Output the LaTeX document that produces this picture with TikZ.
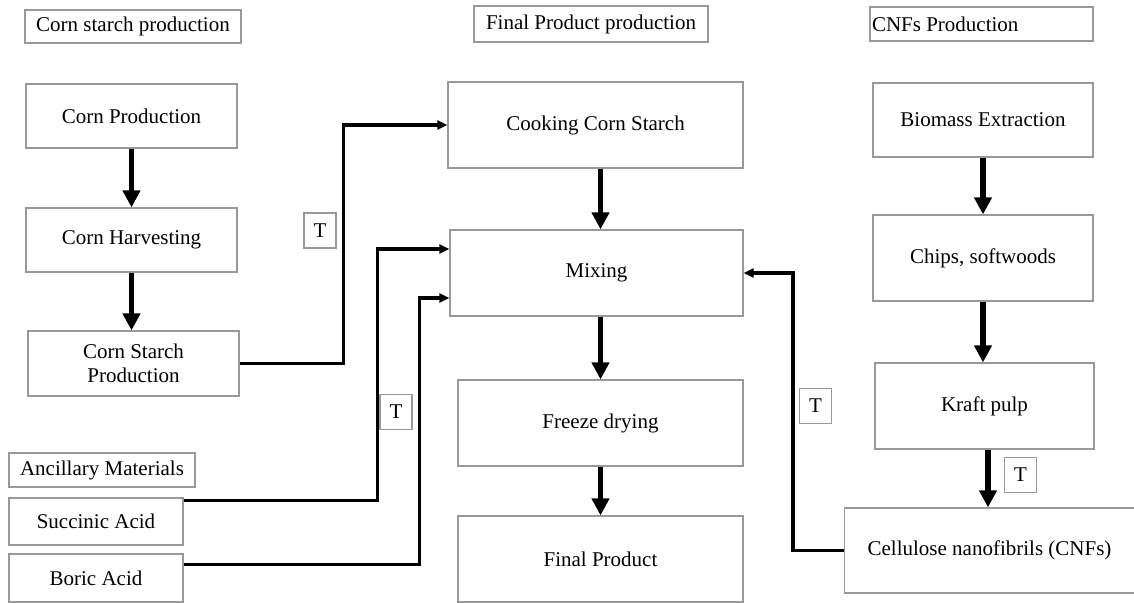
\documentclass[tikz,border=0pt]{standalone}
\usepackage{fontspec}
\setmainfont{Liberation Serif}
\usetikzlibrary{arrows.meta}
\usetikzlibrary{positioning}
\tikzset{
    procbox/.style = {rectangle, draw=gray!80, line width=0.6pt, align=center, inner sep=0pt, fill=white, font=\fontsize{10.5}{12}\selectfont, text=black},
    lblbox/.style = {procbox},
    tbox/.style = {procbox, minimum width=16pt, minimum height=17.5pt},
    edgef/.style = {-{Triangle[width=8.5pt,length=8.5pt]}, line width=2.8pt, black}, % main flow
    edgel/.style = {-{Triangle[width=4.5pt,length=5pt]}, line width=1.6pt, black}, % transport
}

\begin{document}
\begin{tikzpicture}[x=0.5pt, y=-0.5pt]
  \useasboundingbox (0,0) rectangle (1134,603);
  % corn starch column
  \node[lblbox, minimum width=108pt, minimum height=16.5pt] (lcorn) at (133,26.5) {Corn starch production};
  \node[procbox, minimum width=105.5pt, minimum height=32pt] (cprod) at (131.5,116) {Corn Production};
  \node[procbox, minimum width=105.5pt, minimum height=32pt] (charv) at (131.5,240) {Corn Harvesting};
  \node[procbox, minimum width=105.5pt, minimum height=32.5pt] (cstar) at (133.5,363.5) {Corn Starch\\Production};
  \node[tbox] (t1) at (320,230.5) {T};
  % ancillary materials
  \node[lblbox, minimum width=93pt, minimum height=17pt] (lanc) at (102,470) {Ancillary Materials};
  \node[procbox, minimum width=87pt, minimum height=23.5pt] (succ) at (96,521.5) {Succinic Acid};
  \node[procbox, minimum width=87pt, minimum height=24pt] (boric) at (96,578) {Boric Acid};
  \node[tbox] (t2) at (396,412) {T};
  % final product column
  \node[lblbox, minimum width=117pt, minimum height=18pt] (lfinal) at (591,24) {Final Product production};
  \node[procbox, minimum width=147.5pt, minimum height=43pt] (cook) at (595.5,125) {Cooking Corn Starch};
  \node[procbox, minimum width=146.5pt, minimum height=43pt] (mix) at (596.5,273) {Mixing};
  \node[procbox, minimum width=142.5pt, minimum height=43pt] (freeze) at (600.5,423) {Freeze drying};
  \node[procbox, minimum width=142.5pt, minimum height=43pt] (final) at (600.5,559) {Final Product};
  % CNFs column
  \node[lblbox, text width=109.5pt, inner xsep=1pt, align=flush left, minimum height=17pt] (lcnf) at (981.5,24) {CNFs Production};
  \node[procbox, minimum width=110pt, minimum height=37pt] (bio) at (983,120) {Biomass Extraction};
  \node[procbox, minimum width=110pt, minimum height=43pt] (chips) at (983,258) {Chips, softwoods};
  \node[procbox, minimum width=109.5pt, minimum height=43pt] (kraft) at (984.5,406) {Kraft pulp};
  \node[procbox, anchor=west, text width=180pt, align=flush left, minimum height=42.5pt] (cnf) at (844,550.5) {\hspace*{11.5pt}Cellulose nanofibrils (CNFs)};
  \node[tbox] (t3) at (815.5,406) {T};
  \node[tbox] (t4) at (1020.5,475) {T};

  \draw[edgef] (cprod) -- (charv);
  \draw[edgef] (charv.south) -- (charv.south |- cstar.north);
  \draw[edgef] (cook.south -| freeze.north) -- (mix.north -| freeze.north);
  \draw[edgef] (mix.south -| freeze.north) -- (freeze.north);
  \draw[edgef] (freeze) -- (final);
  \draw[edgef] (bio) -- (chips);
  \draw[edgef] (chips.south) -- (chips.south |- kraft.north);
  \draw[edgef] ([xshift=1.75pt]kraft.south) -- ([xshift=1.75pt]kraft.south |- cnf.north);

  \draw[edgel] (cstar.east) -- ++(104,0) |- (cook.west);
  \draw[edgel] ([yshift=-1.5pt]succ.north east) -- ++(194,0) |- ([yshift=12pt]mix.west);
  \draw[edgel] ([yshift=-5.5pt]boric.north east) -- ++(236,0) |- ([yshift=-12.5pt]mix.west);
  \draw[edgel] (cnf.west) -- ++(-51,0) |- (mix.east);
\end{tikzpicture}
\end{document}
